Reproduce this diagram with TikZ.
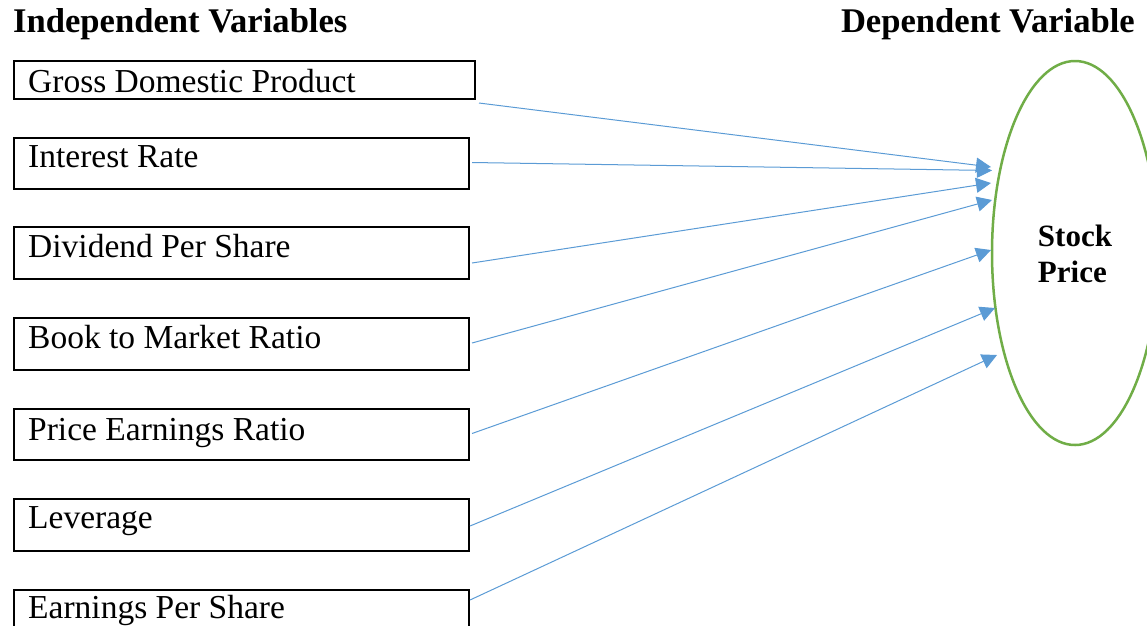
\documentclass[tikz,border=0pt]{standalone}
\usepackage{fontspec}
\setmainfont{Liberation Serif}
\usetikzlibrary{shapes.geometric,arrows.meta}
\definecolor{arrblue}{HTML}{5B9BD5}
\definecolor{ellgreen}{HTML}{70AD47}
\tikzset{
  varbox/.style={draw=black, line width=2pt, rectangle, inner sep=0pt, anchor=north west},
  boxtext/.style={anchor=base west, inner sep=0pt, font=\fontsize{33.5}{38}\selectfont},
  heading/.style={inner sep=0pt, font=\bfseries\fontsize{34.6}{40}\selectfont},
  arr/.style={draw=arrblue, line width=1pt, -{Triangle[length=15pt,width=15pt]}},
  depnode/.style={draw=ellgreen, line width=2.5pt, ellipse, minimum width=166pt, minimum height=384pt, inner sep=0pt}
}
\begin{document}
\begin{tikzpicture}[x=1pt,y=-1pt]
\useasboundingbox (0,0) rectangle (1147,625);
\begin{scope}
\clip (0,0) rectangle (1147,625);

\node[heading, anchor=base west] (hind) at (13,32) {Independent Variables};
\node[heading, anchor=base east] (hdep) at (1135,32) {Dependent Variable};

\node[varbox, minimum width=461pt, minimum height=38pt] (b1) at (13,60) {};
\node[varbox, minimum width=455pt, minimum height=51pt] (b2) at (13,137) {};
\node[varbox, minimum width=455pt, minimum height=52pt] (b3) at (13,226) {};
\node[varbox, minimum width=455pt, minimum height=52pt] (b4) at (13,317) {};
\node[varbox, minimum width=455pt, minimum height=51pt] (b5) at (13,408) {};
\node[varbox, minimum width=455pt, minimum height=52pt] (b6) at (13,498) {};
\node[varbox, minimum width=455pt, minimum height=52pt] (b7) at (13,589) {};

\node[boxtext] (l1) at ([shift={(15,32)}]b1.north west) {Gross Domestic Product};
\node[boxtext] (l2) at ([shift={(15,30)}]b2.north west) {Interest Rate};
\node[boxtext] (l3) at ([shift={(15,31)}]b3.north west) {Dividend Per Share};
\node[boxtext] (l4) at ([shift={(15,31)}]b4.north west) {Book to Market Ratio};
\node[boxtext] (l5) at ([shift={(15,32)}]b5.north west) {Price Earnings Ratio};
\node[boxtext] (l6) at ([shift={(15,30)}]b6.north west) {Leverage};
\node[boxtext] (l7) at ([shift={(15,29)}]b7.north west) {Earnings Per Share};

\node[depnode] (sp) at (1075,253) {};
\node[font=\bfseries\fontsize{31}{36}\selectfont, align=left, inner sep=0pt] (spt) at (1075,254) {Stock\\Price};

\coordinate (t1) at (991,167);
\coordinate (t2) at (992,170.5);
\coordinate (t3) at (991,183);
\coordinate (t4) at (992,200);
\coordinate (t5) at (991,250);
\coordinate (t6) at (995,308);
\coordinate (t7) at (997,355);

\draw[arr] ([shift={(3,3)}]b1.south east) -- (t1);
\draw[arr] ([shift={(2,-1)}]b2.east) -- (t2);
\draw[arr] ([shift={(2,10)}]b3.east) -- (t3);
\draw[arr] ([shift={(2,-1)}]b4.east) -- (t4);
\draw[arr] ([shift={(2,-1)}]b5.east) -- (t5);
\draw[arr] ([shift={(0,1)}]b6.east) -- (t6);
\draw[arr] ([shift={(0,-16)}]b7.east) -- (t7);
\end{scope}
\end{tikzpicture}
\end{document}
